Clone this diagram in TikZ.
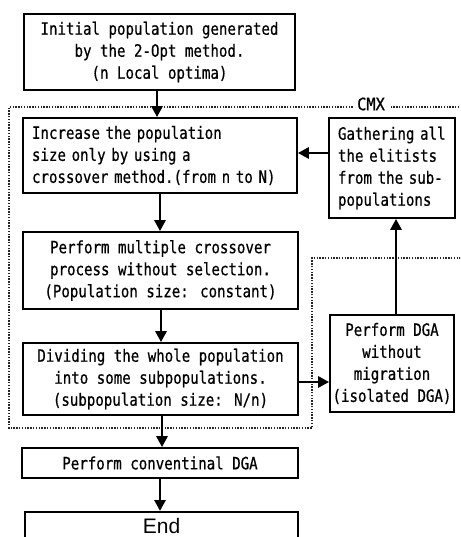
\documentclass[tikz,border=0pt]{standalone}
\usepackage{fontspec}
\usetikzlibrary{arrows.meta}
% narrow monospaced gothic for the step texts, plain sans for the end box
\newfontfamily\gothic[FakeStretch=0.83,FakeBold=0.6]{DejaVu Sans Mono}
\newfontfamily\cmxfont[FakeStretch=0.9,FakeBold=0.8]{DejaVu Sans Mono}
\newfontfamily\plainsans{Liberation Sans}
\tikzset{
  stepbox/.style={draw, line width=1.7pt, font=\gothic\fontsize{17}{22}\selectfont,
    align=center, inner xsep=0pt, inner ysep=0pt},
  leftbox/.style={stepbox, align=left, inner xsep=9pt},
  arr/.style={line width=2.8pt, -{Triangle[length=11pt,width=11pt]}},
  cmxline/.style={line width=1.4pt, dash pattern=on 1.4pt off 1.4pt, color=black!85}
}
\begin{document}
\begin{tikzpicture}[x=1pt,y=-1pt]
\useasboundingbox (0,0) rectangle (460,537);
\clip (0,0) rectangle (460,537);

% CMX region
\draw[cmxline] (462,107) -- (9,107) -- (9,428) -- (312,428) -- (312,258) -- (462,258);
\node[fill=white, font=\cmxfont\fontsize{17}{20}\selectfont, inner xsep=4pt, inner ysep=0pt] (cmx) at (371,104) {CMX};

% main column
\node[stepbox, minimum width=271, minimum height=76] (b1) at (159.5,52)
  {Initial population generated\\by the 2-Opt method.\\(n Local optima)};
\node[leftbox, minimum width=274, minimum height=75, text width=256] (b2) at (160,155.5)
  {Increase the population\\size only by using a\\crossover method.(from n to N)};
\node[stepbox, minimum width=275, minimum height=77] (b3) at (160.5,270.5)
  {Perform multiple crossover\\process without selection.\\(Population size: constant)};
\node[stepbox, minimum width=275, minimum height=72] (b4) at (160.5,379)
  {Dividing the whole population\\into some subpopulations.\\(subpopulation size: N/n)};
\node[stepbox, minimum width=276, minimum height=30] (b5) at (160,463)
  {Perform conventinal DGA};
\node[draw, line width=1.7pt, anchor=north, minimum width=273, inner ysep=0pt,
  text height=22pt, text depth=40pt, font=\plainsans\fontsize{21}{24}\selectfont]
  (b6) at (161.5,511) {End};

% side column
\node[leftbox, minimum width=126, minimum height=100, text width=108] (g) at (392,168)
  {Gathering all\\the elitists\\from the sub-\\populations};
\node[stepbox, minimum width=124, minimum height=97] (d) at (392,363.5)
  {Perform DGA\\without\\migration\\(isolated DGA)};

% connectors
\draw[arr] (b1.south -| 157,0) -- (b2.north -| 157,0);
\draw[arr] (b2.south -| 160,0) -- (b3.north -| 160,0);
\draw[arr] (b3.south -| 161,0) -- (b4.north -| 161,0);
\draw[arr] (b4.south -| 162,0) -- (b5.north -| 162,0);
\draw[arr] (b5.south) -- (b6.north -| b5.south);
\draw[arr] (g.west |- 0,153) -- (b2.east |- 0,153);
\draw[arr] (b4.east |- 0,382) -- (d.west |- 0,382);
\draw[arr] (d.north -| 396,0) -- (g.south -| 396,0);
\end{tikzpicture}
\end{document}
